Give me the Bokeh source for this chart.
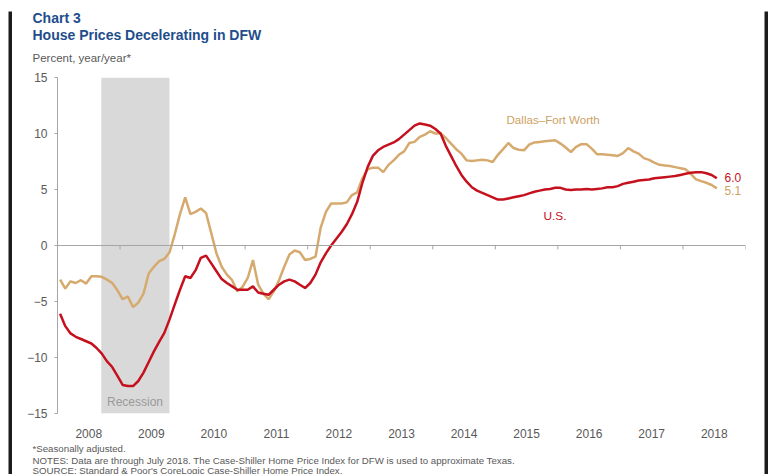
import numpy as np
from bokeh.plotting import figure
from bokeh.layouts import column, row
from bokeh.models import Range1d, FixedTicker, Label, BoxAnnotation, Span
from bokeh.embed import file_html
from bokeh.resources import INLINE

# ---------------- data (monthly, Jan 2008 - Jul 2018) ----------------
us = [
    -6.1, -7.2, -7.85, -8.15, -8.35, -8.55, -8.75, -9.15, -9.65, -10.35, -10.85, -11.65,
    -12.45, -12.55, -12.55, -12.1, -11.35, -10.4, -9.45, -8.6, -7.8, -6.6, -5.25, -3.95,
    -2.75, -2.9, -2.2, -1.1, -0.9, -1.6, -2.3, -3.0, -3.35, -3.65, -3.95, -3.95,
    -3.95, -3.65, -4.2, -4.3, -4.4, -3.95, -3.5, -3.2, -3.05, -3.2, -3.5, -3.8,
    -3.35, -2.6, -1.5, -0.7, 0.0, 0.6, 1.2, 1.9, 2.8, 3.9, 5.6, 7.0,
    8.0, 8.5, 8.8, 9.0, 9.2, 9.5, 9.9, 10.3, 10.7, 10.9, 10.8, 10.7,
    10.4, 10.0, 8.9, 8.0, 7.1, 6.3, 5.7, 5.2, 4.9, 4.7, 4.5, 4.3,
    4.1, 4.1, 4.2, 4.3, 4.4, 4.5, 4.65, 4.8, 4.9, 5.0, 5.05, 5.15,
    5.15, 5.0, 4.95, 5.0, 5.0, 5.05, 5.0, 5.05, 5.1, 5.2, 5.2, 5.3,
    5.5, 5.6, 5.7, 5.8, 5.85, 5.9, 6.0, 6.05, 6.1, 6.15, 6.2, 6.3,
    6.4, 6.5, 6.55, 6.55, 6.45, 6.3, 6.0,
]
dfw = [
    -3.05, -3.85, -3.2, -3.35, -3.1, -3.4, -2.75, -2.75, -2.8, -3.05, -3.35, -4.0,
    -4.8, -4.55, -5.5, -5.1, -4.3, -2.5, -1.9, -1.4, -1.2, -0.6, 1.0, 2.8,
    4.3, 2.8, 3.0, 3.3, 2.9, 1.1, -0.7, -1.9, -2.6, -3.1, -4.1, -3.7,
    -2.9, -1.3, -3.5, -4.3, -4.8, -4.1, -3.1, -1.9, -0.8, -0.45, -0.6, -1.3,
    -1.2, -1.0, 1.6, 3.0, 3.75, 3.75, 3.75, 3.85, 4.5, 4.75, 6.0, 6.8,
    6.95, 6.95, 6.55, 7.2, 7.6, 8.1, 8.4, 9.15, 9.25, 9.7, 9.9, 10.2,
    10.0, 10.0, 9.6, 9.1, 8.6, 8.2, 7.6, 7.55, 7.6, 7.65, 7.6, 7.45,
    8.1, 8.6, 9.15, 8.7, 8.55, 8.5, 9.0, 9.2, 9.25, 9.3, 9.35, 9.4,
    9.1, 8.75, 8.35, 8.8, 9.05, 9.05, 8.65, 8.15, 8.15, 8.1, 8.05, 8.0,
    8.25, 8.7, 8.4, 8.2, 7.8, 7.65, 7.4, 7.2, 7.15, 7.1, 7.0, 6.9,
    6.8, 6.4, 5.9, 5.75, 5.6, 5.4, 5.1,
]
start_year = 2008
year_labels = ["2008", "2009", "2010", "2011", "2012", "2013",
               "2014", "2015", "2016", "2017", "2018"]
y_ticks = [-15, -10, -5, 0, 5, 10, 15]
recession = [2008.70, 2009.79]
us_last = "6.0"
dfw_last = "5.1"

months = np.arange(len(us))
years = start_year + (months + 0.5) / 12.0

# ---------------- styles ----------------
RED = "#C5111E"
TAN = "#D6AA6E"
TAN_TXT = "#CDA264"
BLUE = "#1F4E8C"
GRAY_TXT = "#595959"
AXIS = "#A6A6A6"
FONT = "Liberation Sans"
FRAME = "#1c1c1c"

W = 752             # inner width (between the black side bars)
H_HEAD, H_MAIN, H_FOOT = 59, 370, 34

NOBORDER = dict(min_border=0, min_border_left=0, min_border_right=0,
                min_border_top=0, min_border_bottom=0)


def bar(w, h):
    b = figure(width=w, height=h, output_backend="svg", toolbar_location=None,
               x_axis_type=None, y_axis_type=None, frame_align=False, **NOBORDER)
    b.background_fill_color = FRAME
    b.border_fill_color = FRAME
    b.outline_line_color = None
    b.grid.visible = False
    return b


def text_panel(h):
    t = figure(width=W, height=h, output_backend="svg", toolbar_location=None,
               x_axis_type=None, y_axis_type=None, frame_align=False,
               x_range=Range1d(0, W), y_range=Range1d(h, 0), **NOBORDER)
    t.outline_line_color = None
    t.grid.visible = False
    t.background_fill_color = "white"
    t.border_fill_color = "white"
    return t


def txt(fig, x, y, text, color, size, style="normal", align="left"):
    fig.add_layout(Label(x=x, y=y, text=text, text_color=color, text_font=FONT,
                         text_font_size=size, text_font_style=style, text_align=align,
                         text_baseline="alphabetic"))


# ---------------- header (page y 11..70, x 12..764) ----------------
head = text_panel(H_HEAD)
txt(head, 32 - 12, 17.7 - 11, "Chart 3", BLUE, "14px", "bold")
txt(head, 32 - 12, 34 - 11, "House Prices Decelerating in DFW", BLUE, "14px", "bold")
txt(head, 32 - 12, 57.3 - 11, "Percent, year/year*", GRAY_TXT, "11.5px")

# ---------------- main chart (page y 70..440) ----------------
x0, x1 = 2008, 2019
p = figure(width=W, height=H_MAIN, x_range=Range1d(x0, x1), y_range=Range1d(-15, 15),
           output_backend="svg", toolbar_location=None, frame_align=False,
           min_border_left=45, min_border_right=19, min_border_top=7, min_border_bottom=26)
p.outline_line_color = None
p.xgrid.visible = False
p.ygrid.visible = False
p.background_fill_color = "white"
p.border_fill_color = "white"

p.yaxis.ticker = FixedTicker(ticks=y_ticks)
p.yaxis.axis_line_color = AXIS
p.yaxis.major_tick_line_color = AXIS
p.yaxis.major_tick_out = 3
p.yaxis.major_tick_in = 0
p.yaxis.minor_tick_line_color = None
p.yaxis.major_label_standoff = 7
p.yaxis.major_label_text_font = FONT
p.yaxis.major_label_text_font_size = "12px"
p.yaxis.major_label_text_color = GRAY_TXT

mid = [start_year + i + 0.5 for i in range(len(year_labels))]
p.xaxis.ticker = FixedTicker(ticks=mid)
p.xaxis.major_label_overrides = {m: l for m, l in zip(mid, year_labels)}
p.xaxis.axis_line_color = None
p.xaxis.major_tick_line_color = None
p.xaxis.minor_tick_line_color = None
p.xaxis.major_label_standoff = 9
p.xaxis.major_label_text_font = FONT
p.xaxis.major_label_text_font_size = "12px"
p.xaxis.major_label_text_color = GRAY_TXT

p.add_layout(BoxAnnotation(left=recession[0], right=recession[1], fill_color="#D9D9D9",
                           fill_alpha=1.0, line_color=None, level="underlay"))

p.add_layout(Span(location=0, dimension="width", line_color=AXIS, line_width=1))
bounds = [start_year + i + 1 for i in range(len(year_labels))]
p.segment(x0=bounds, y0=[0] * len(bounds), x1=bounds, y1=[-0.35] * len(bounds),
          line_color=AXIS, line_width=1)

p.line(years, dfw, line_color=TAN, line_width=2.5)
p.line(years, us, line_color=RED, line_width=2.5)


def dx(X):   # page pixel -> year (frame spans page x 57..745)
    return x0 + (X - 57) * (x1 - x0) / 688.0


def dy(Y):   # page pixel -> percent (frame spans page y 77..414)
    return 15 - (Y - 77) * 30.0 / 337.0


txt(p, dx(134.5), dy(402.7), "Recession", "#9A9A9A", "12px", align="center")
txt(p, dx(506), dy(119), "Dallas\u2013Fort Worth", TAN_TXT, "11.6px")
txt(p, dx(543), dy(215.7), "U.S.", RED, "11.8px")
txt(p, dx(724), dy(177), us_last, RED, "12px")
txt(p, dx(724), dy(190.5), dfw_last, TAN_TXT, "12px")

# ---------------- footer (page y 440..474) ----------------
foot = text_panel(H_FOOT)
txt(foot, 32 - 12, 448 - 440, "*Seasonally adjusted.", GRAY_TXT, "9.7px")
txt(foot, 32 - 12, 459.5 - 440,
    "NOTES: Data are through July 2018. The Case-Shiller Home Price Index for DFW is used to approximate Texas.",
    GRAY_TXT, "9.7px")
txt(foot, 32 - 12, 469.5 - 440,
    "SOURCE: Standard & Poor's CoreLogic Case-Shiller Home Price Index.", GRAY_TXT, "9.7px")

layout = column(bar(W + 8, 3),
                row(bar(4, H_HEAD + H_MAIN + H_FOOT),
                    column(head, p, foot),
                    bar(4, H_HEAD + H_MAIN + H_FOOT)),
                margin=(8, 2, 0, 8))

open("out.html", "w").write(file_html(layout, INLINE))
